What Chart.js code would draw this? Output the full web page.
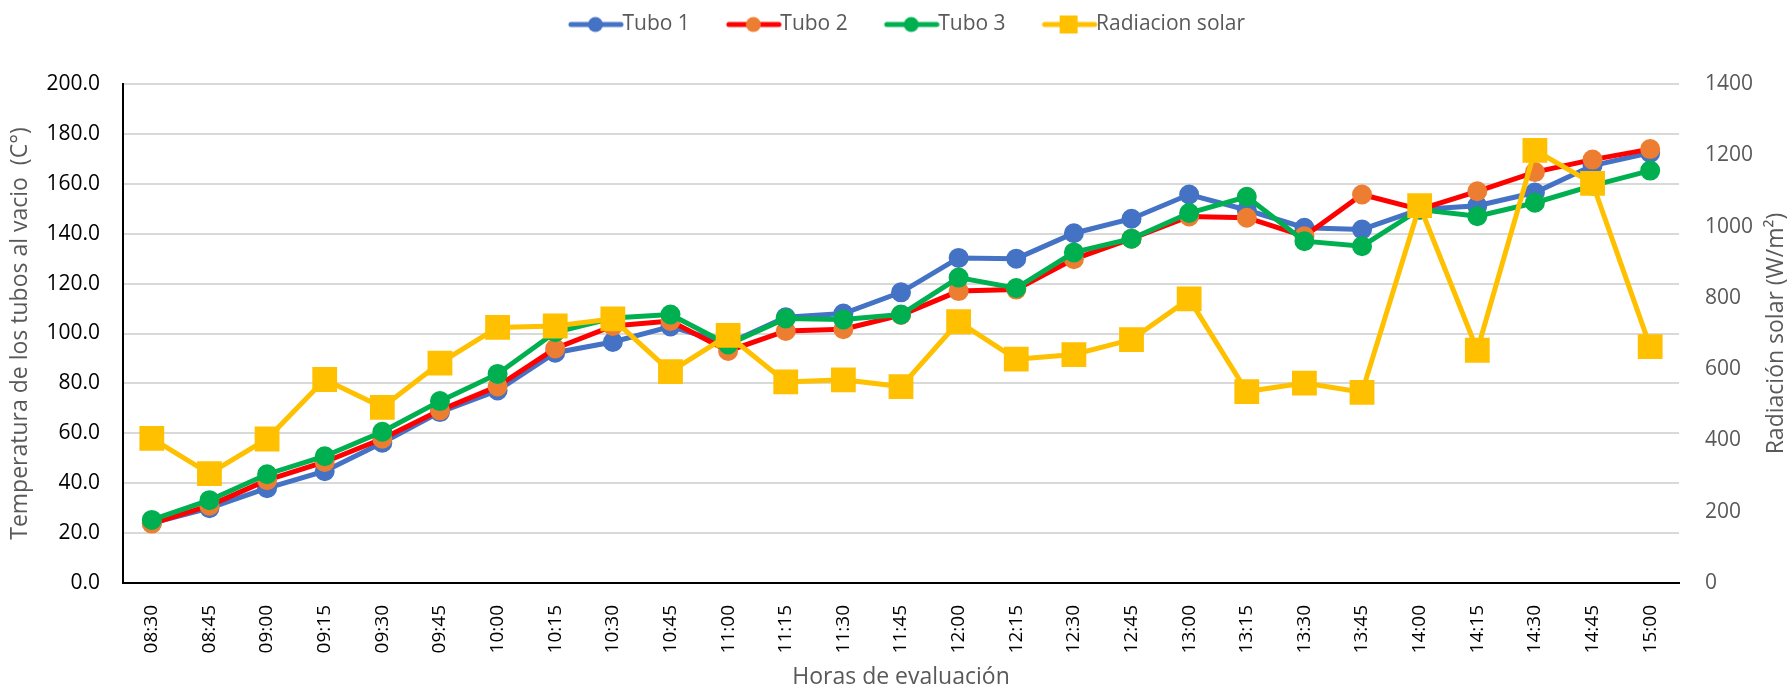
<!DOCTYPE html>
<html>
<head>
<meta charset="utf-8">
<script src="https://cdn.jsdelivr.net/npm/chart.js@4.4.1/dist/chart.umd.min.js"></script>
<style>
    html, body { margin: 0; padding: 0; background: #fff; }
    #wrap { width: 1791px; height: 689px; }
</style>
</head>
<body>
<div id="wrap"><canvas id="chart" width="1791" height="689"></canvas></div>
<script>
// Horas de evaluacion
const horas = ['08:30', '08:45', '09:00', '09:15', '09:30', '09:45', '10:00', '10:15', '10:30',
    '10:45', '11:00', '11:15', '11:30', '11:45', '12:00', '12:15', '12:30', '12:45', '13:00',
    '13:15', '13:30', '13:45', '14:00', '14:15', '14:30', '14:45', '15:00'];

// Temperaturas (C)
const tubo1 = [24.0, 30.0, 38.0, 44.8, 56.2, 68.5, 77.2, 92.3, 96.6, 102.8, 96.0, 106.5, 108.0, 116.5,
    130.3, 130.0, 140.2, 146.0, 155.7, 149.5, 142.4, 141.7, 149.7, 151.2, 156.5, 167.3, 172.4];
const tubo2 = [23.8, 31.0, 41.2, 48.5, 57.8, 69.2, 78.8, 94.0, 103.0, 105.0, 93.0, 101.0, 101.7, 107.4,
    117.0, 117.6, 129.8, 138.0, 146.9, 146.4, 139.0, 155.7, 149.7, 157.0, 164.7, 169.7, 173.9];
const tubo3 = [25.3, 33.2, 43.6, 50.8, 60.6, 72.9, 83.8, 100.5, 106.2, 107.6, 95.6, 106.0, 105.6, 107.6,
    122.4, 118.2, 132.5, 138.0, 148.3, 154.8, 137.0, 135.0, 149.7, 147.0, 152.4, 159.3, 165.3];

// Radiacion solar (W/m2)
const radiacion = [406, 307, 404, 571, 493, 617, 717, 721, 741, 593, 695, 564, 570, 551,
    733, 628, 641, 683, 797, 537, 561, 535, 1059, 653, 1214, 1121, 663];

const FONT = "'Open Sans', sans-serif";
const GRIS = '#595959';
const TITULO_DER = 'Radiación solar (W/m²)';

// legend icon: line with marker in the middle (Excel style)
// canvas has blank space on the left so the items get spaced out
function makeIcon(lineColor, markColor, shape) {
    const c = document.createElement('canvas');
    c.width = 90;
    c.height = 22;
    const g = c.getContext('2d');
    g.strokeStyle = lineColor;
    g.lineWidth = 5;
    g.lineCap = 'round';
    g.beginPath();
    g.moveTo(37, 11);
    g.lineTo(87, 11);
    g.stroke();
    g.fillStyle = markColor;
    if (shape === 'rect') {
        g.fillRect(52, 2, 18, 18);
    } else {
        g.beginPath();
        g.arc(61.5, 11, 7.5, 0, Math.PI * 2);
        g.fill();
    }
    return c;
}

const icons = [
    makeIcon('#4472C4', '#4472C4'),
    makeIcon('#FF0000', '#ED7D31'),
    makeIcon('#00B050', '#00B050'),
    makeIcon('#FFC000', '#FFC000', 'rect')
];

// leave room between legend and plot
const legendMargin = {
    id: 'legendMargin',
    beforeLayout(chart) {
        const lg = chart.legend;
        if (!lg || lg._patched) return;
        const fit = lg.fit;
        lg.fit = function () {
            fit.call(lg);
            lg.height = 84;
        };
        lg._patched = true;
    }
};

// right axis title reads bottom-to-top like the left one
const rightTitle = {
    id: 'rightTitle',
    afterDraw(chart) {
        const ctx = chart.ctx;
        const area = chart.chartArea;
        ctx.save();
        ctx.translate(1776, (area.top + area.bottom) / 2);
        ctx.rotate(-Math.PI / 2);
        ctx.font = '23px ' + FONT;
        ctx.fillStyle = GRIS;
        ctx.textAlign = 'center';
        ctx.textBaseline = 'middle';
        ctx.fillText(TITULO_DER, 0, 0);
        ctx.restore();
    }
};

function serie(label, data, line, mark, order) {
    return {
        label: label,
        data: data,
        yAxisID: 'y',
        borderColor: line,
        backgroundColor: mark,
        pointBackgroundColor: mark,
        pointBorderColor: mark,
        borderWidth: 5,
        pointRadius: 7.5,
        pointHoverRadius: 7.5,
        pointStyle: 'circle',
        tension: 0,
        order: order
    };
}

new Chart(document.getElementById('chart'), {
    type: 'line',
    data: {
        labels: horas,
        datasets: [
            serie('Tubo 1', tubo1, '#4472C4', '#4472C4', 3),
            serie('Tubo 2', tubo2, '#FF0000', '#ED7D31', 2),
            serie('Tubo 3', tubo3, '#00B050', '#00B050', 1),
            {
                label: 'Radiacion solar',
                data: radiacion,
                yAxisID: 'y1',
                borderColor: '#FFC000',
                backgroundColor: '#FFC000',
                pointBackgroundColor: '#FFC000',
                pointBorderColor: '#FFC000',
                borderWidth: 5,
                pointStyle: 'rect',
                pointRadius: 14,
                pointHoverRadius: 14,
                tension: 0,
                order: 0
            }
        ]
    },
    plugins: [legendMargin, rightTitle],
    options: {
        responsive: false,
        animation: false,
        layout: { padding: 0 },
        plugins: {
            tooltip: { enabled: false },
            legend: {
                position: 'top',
                labels: {
                    usePointStyle: true,
                    pointStyleWidth: 66,
                    padding: 14,
                    color: GRIS,
                    font: { family: FONT, size: 21 },
                    sort: (a, b) => a.datasetIndex - b.datasetIndex,
                    generateLabels: function (chart) {
                        const items = Chart.defaults.plugins.legend.labels.generateLabels(chart);
                        items.forEach(it => { it.pointStyle = icons[it.datasetIndex]; });
                        return items;
                    }
                }
            }
        },
        scales: {
            x: {
                offset: true,
                grid: { display: false },
                border: { display: true, color: '#000', width: 2 },
                ticks: {
                    color: '#000',
                    font: { family: FONT, size: 19 },
                    minRotation: 90,
                    maxRotation: 90,
                    autoSkip: false,
                    padding: 14
                },
                title: {
                    display: true,
                    text: 'Horas de evaluación',
                    color: GRIS,
                    font: { family: FONT, size: 23, lineHeight: 1 },
                    padding: { top: 0, bottom: 0 }
                },
                afterFit: function (scale) { scale.height = 106; }
            },
            y: {
                position: 'left',
                min: 0,
                max: 200,
                grid: { color: '#D9D9D9', lineWidth: 2, drawTicks: false },
                border: { display: true, color: '#000', width: 2 },
                ticks: {
                    stepSize: 20,
                    color: '#000',
                    font: { family: FONT, size: 21 },
                    padding: 23,
                    callback: v => v.toFixed(1)
                },
                title: {
                    display: true,
                    text: 'Temperatura de los tubos al vacio  (C°)',
                    color: GRIS,
                    font: { family: FONT, size: 23 },
                    padding: { top: 7, bottom: 0 }
                },
                afterFit: function (scale) { scale.width = 123; }
            },
            y1: {
                position: 'right',
                min: 0,
                max: 1400,
                grid: { drawOnChartArea: false, drawTicks: false },
                border: { display: false },
                ticks: {
                    stepSize: 200,
                    color: GRIS,
                    font: { family: FONT, size: 21 },
                    padding: 26,
                    callback: v => String(v)
                },
                afterFit: function (scale) { scale.width = 112; }
            }
        }
    }
});
</script>
</body>
</html>
